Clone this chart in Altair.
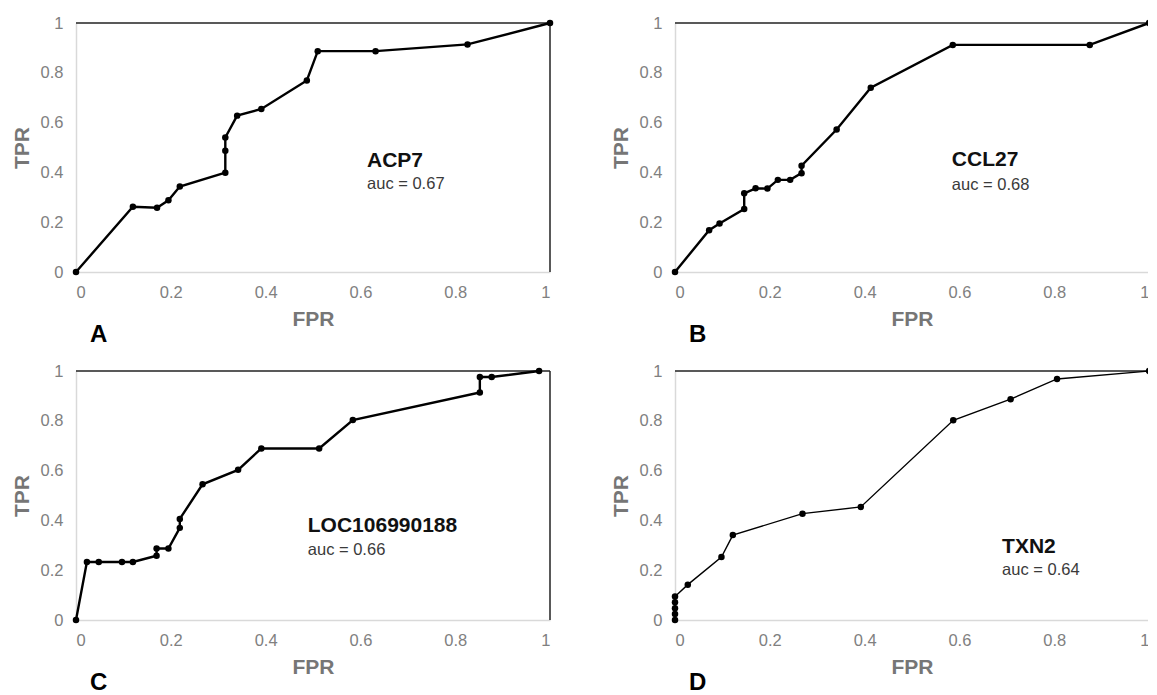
import altair as alt
import pandas as pd

# ---- data ----
acp7_fpr = [0, 0.12, 0.171, 0.195, 0.219, 0.315, 0.315, 0.315, 0.340, 0.391, 0.487, 0.510, 0.632, 0.826, 1.0]
acp7_tpr = [0, 0.262, 0.258, 0.288, 0.343, 0.399, 0.487, 0.540, 0.628, 0.655, 0.769, 0.887, 0.887, 0.914, 1.0]

ccl27_fpr = [0, 0.072, 0.094, 0.146, 0.146, 0.170, 0.195, 0.217, 0.243, 0.267, 0.267, 0.341, 0.413, 0.586, 0.875, 1.0]
ccl27_tpr = [0, 0.168, 0.195, 0.253, 0.316, 0.336, 0.335, 0.370, 0.370, 0.397, 0.427, 0.572, 0.740, 0.912, 0.912, 1.0]

loc_fpr = [0, 0.023, 0.048, 0.097, 0.120, 0.170, 0.170, 0.195, 0.219, 0.219, 0.267, 0.342, 0.391, 0.513, 0.584, 0.852, 0.852, 0.877, 0.977]
loc_tpr = [0, 0.233, 0.233, 0.233, 0.233, 0.258, 0.287, 0.287, 0.370, 0.406, 0.545, 0.603, 0.689, 0.689, 0.803, 0.914, 0.976, 0.976, 1.0]

txn2_fpr = [0, 0, 0, 0, 0, 0.027, 0.098, 0.122, 0.269, 0.392, 0.587, 0.708, 0.806, 1.0]
txn2_tpr = [0, 0.024, 0.047, 0.071, 0.094, 0.142, 0.253, 0.341, 0.427, 0.454, 0.802, 0.887, 0.968, 1.0]

genes = ["ACP7", "CCL27", "LOC106990188", "TXN2"]
aucs = ["auc = 0.67", "auc = 0.68", "auc = 0.66", "auc = 0.64"]
letters = ["A", "B", "C", "D"]
label_x = [0.614, 0.584, 0.489, 0.69]
gene_y = [0.446, 0.451, 0.377, 0.294]
auc_y = [0.352, 0.350, 0.280, 0.200]
line_widths = [2.4, 2.4, 2.4, 1.4]
tick_values = [0, 0.2, 0.4, 0.6, 0.8, 1]

W, H = 474, 249
LABEL_GRAY = "#808080"
TITLE_GRAY = "#767676"
FONT = "Liberation Sans"


def panel(fpr, tpr, k):
    df = pd.DataFrame({"FPR": fpr, "TPR": tpr, "i": list(range(len(fpr)))})
    xs = alt.Scale(domain=[0, 1], nice=False, zero=True)
    ys = alt.Scale(domain=[0, 1], nice=False, zero=True)
    x = alt.X("FPR:Q", scale=xs, axis=alt.Axis(values=tick_values, format="~g", title="FPR",
                                                 labelPadding=12, titlePadding=8))
    y = alt.Y("TPR:Q", scale=ys, axis=alt.Axis(values=tick_values, format="~g", title="TPR",
                                                 labelPadding=13, titlePadding=8))
    base = alt.Chart(df)
    line = base.mark_line(color="black", strokeWidth=line_widths[k]).encode(x=x, y=y, order="i:Q")
    pts = base.mark_circle(color="black", opacity=1, size=42).encode(x="FPR:Q", y="TPR:Q")
    one = pd.DataFrame({"v": [1]})
    top = alt.Chart(one).mark_rule(color="#222222", strokeWidth=1.5).encode(
        y="v:Q", x=alt.value(0), x2=alt.value(W))
    right = alt.Chart(one).mark_rule(color="#222222", strokeWidth=1.5).encode(
        x="v:Q", y=alt.value(0), y2=alt.value(H))
    gdf = pd.DataFrame({"x": [label_x[k]], "y": [gene_y[k]], "t": [genes[k]]})
    adf = pd.DataFrame({"x": [label_x[k]], "y": [auc_y[k]], "t": [aucs[k]]})
    gtxt = alt.Chart(gdf).mark_text(align="left", baseline="middle", fontSize=21, fontWeight="bold",
                                    color="#111111", font=FONT).encode(
        x="x:Q", y="y:Q", text="t:N")
    atxt = alt.Chart(adf).mark_text(align="left", baseline="middle", fontSize=16.5,
                                    color="#3a3a3a", font=FONT).encode(
        x="x:Q", y="y:Q", text="t:N")
    return alt.layer(top, right, line, pts, gtxt, atxt).properties(
        width=W, height=H,
        title=alt.TitleParams(letters[k], orient="bottom", anchor="start", frame="group",
                              dx=14, offset=-7,
                              fontSize=24, fontWeight="bold", color="black", font=FONT),
    )


a = panel(acp7_fpr, acp7_tpr, 0)
b = panel(ccl27_fpr, ccl27_tpr, 1)
c = panel(loc_fpr, loc_tpr, 2)
d = panel(txn2_fpr, txn2_tpr, 3)

chart = alt.concat(
    a, b, c, d, columns=2,
    spacing=alt.RowColnumber(row=99, column=125), bounds="flush",
).properties(padding={"left": 3, "top": 7, "right": -6, "bottom": 0}).configure_view(
    stroke=None
).configure_axis(
    grid=False, ticks=False, domainColor="#d9d9d9", domainWidth=1.5,
    labelColor=LABEL_GRAY, labelFontSize=16.5, labelFont=FONT,
    titleColor=TITLE_GRAY, titleFontSize=21, titleFontWeight="bold", titleFont=FONT,
)

chart.save("out.html", embed_options={"renderer": "svg", "actions": False})
